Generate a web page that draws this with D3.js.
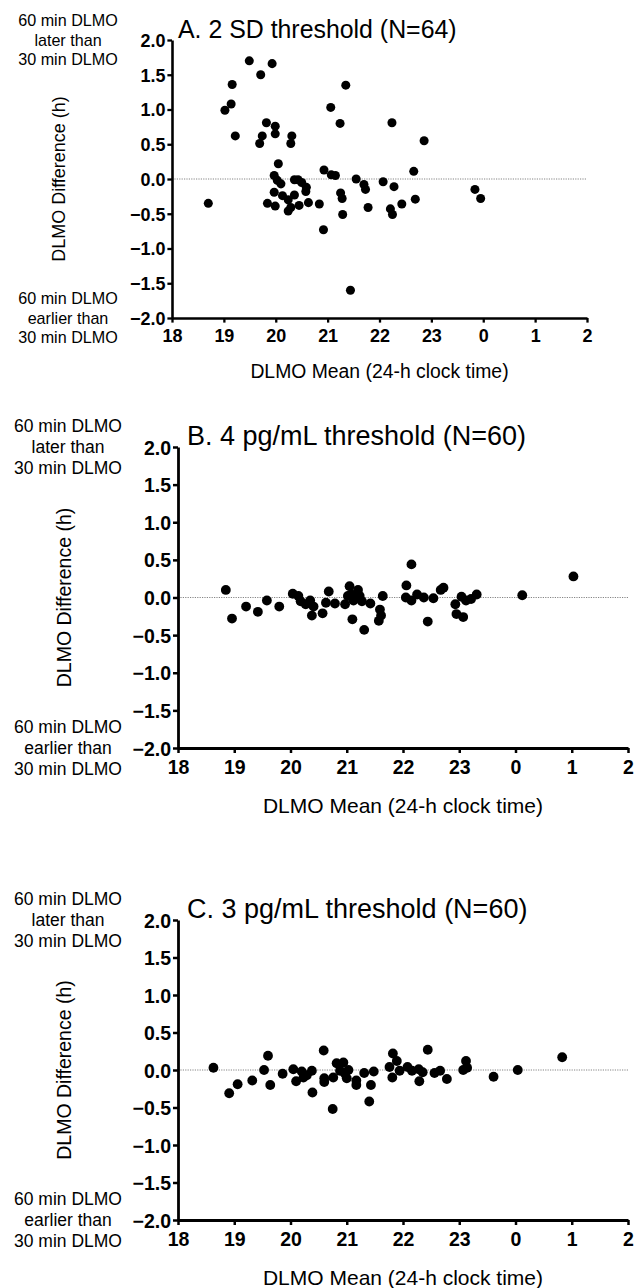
<!DOCTYPE html>
<html>
<head>
<meta charset="utf-8">
<script src="https://cdn.jsdelivr.net/npm/d3@7"></script>
<style>
 body{margin:0;background:#fff}
 text{font-family:"Liberation Sans",Arial,Helvetica,sans-serif;fill:#000}
</style>
</head>
<body>
<svg id="fig" width="636" height="1288"></svg>
<script>
// x = DLMO mean in hours (24 = midnight, 25 = 1am ...), y = DLMO difference (h)
var aHour = [18.70,19.02,19.14,19.16,19.22,19.49,19.71,19.93,19.82,19.74,19.69,19.99,19.99,20.31,20.29,20.05,
  19.97,20.03,20.10,19.97,19.84,19.99,20.13,20.24,20.36,20.24,20.29,20.45,20.36,20.43,20.50,20.59,20.58,20.63,
  20.84,20.92,20.93,21.06,21.07,21.15,21.24,21.35,21.25,21.28,21.29,21.44,21.55,21.70,21.73,21.78,22.07,22.28,
  22.24,22.21,22.25,22.43,22.66,22.69,22.86,23.84,23.95];
var aDiff = [-0.35,0.99,1.08,1.36,0.62,1.70,1.50,1.66,0.81,0.62,0.51,0.76,0.65,0.62,0.51,0.22,
  0.05,-0.02,-0.07,-0.19,-0.35,-0.39,-0.24,-0.30,-0.23,-0.46,-0.41,-0.38,-0.01,-0.01,-0.05,-0.12,-0.18,-0.34,
  -0.36,-0.73,0.13,1.03,0.06,0.05,0.80,1.35,-0.20,-0.28,-0.51,-1.60,0.00,-0.08,-0.15,-0.41,-0.04,-0.11,
  0.81,-0.43,-0.51,-0.36,0.11,-0.29,0.55,-0.15,-0.28];

var bHour = [18.85,18.96,19.21,19.42,19.58,19.80,20.04,20.14,20.18,20.27,20.35,20.41,20.38,20.57,20.63,20.68,
  20.79,20.97,21.02,21.05,21.08,21.12,21.10,21.20,21.23,21.27,21.31,21.42,21.59,21.57,21.61,21.64,
  22.06,22.15,22.05,22.15,22.25,22.37,22.44,22.54,22.67,22.72,22.93,22.95,23.07,23.04,23.12,23.21,23.31,24.12,25.03];
var bDiff = [0.10,-0.28,-0.12,-0.19,-0.04,-0.12,0.05,0.02,-0.05,-0.09,-0.04,-0.12,-0.24,-0.21,-0.07,0.08,
  -0.08,-0.09,0.02,0.15,0.04,-0.04,-0.29,0.10,0.02,-0.05,-0.43,-0.08,-0.16,-0.31,-0.24,0.02,
  0.16,0.44,0.00,-0.04,0.04,0.00,-0.32,-0.01,0.10,0.13,-0.09,-0.22,-0.26,0.01,-0.04,-0.02,0.04,0.03,0.28];

var cHour = [18.63,18.91,19.06,19.32,19.53,19.60,19.64,19.86,20.05,20.10,20.20,20.23,20.29,20.38,20.39,20.59,
  20.60,20.60,20.75,20.76,20.82,20.94,20.88,20.97,21.03,21.00,21.17,21.17,21.31,21.43,21.40,21.48,21.76,21.82,
  21.81,21.89,21.94,22.08,22.16,22.28,22.35,22.29,22.44,22.56,22.66,22.78,23.07,23.12,23.14,23.61,24.04,24.83];
var cDiff = [0.03,-0.31,-0.19,-0.14,0.00,0.19,-0.20,-0.05,0.01,-0.15,-0.02,-0.10,-0.07,-0.01,-0.30,0.26,
  -0.11,-0.16,-0.52,-0.10,0.09,0.10,-0.01,-0.05,0.00,-0.11,-0.14,-0.20,-0.04,-0.20,-0.42,-0.02,0.04,0.22,
  -0.10,0.12,-0.01,0.04,-0.01,0.01,-0.03,-0.15,0.27,-0.04,-0.01,-0.12,0.00,0.12,0.03,-0.09,0.00,0.17];

var titles = ["A. 2 SD threshold (N=64)", "B. 4 pg/mL threshold (N=60)", "C. 3 pg/mL threshold (N=60)"];
var xTicks = [18,19,20,21,22,23,24,25,26];
var yTicks = [2.0,1.5,1.0,0.5,0.0,-0.5,-1.0,-1.5,-2.0];
var upperNote = ["60 min DLMO","later than","30 min DLMO"];
var lowerNote = ["60 min DLMO","earlier than","30 min DLMO"];

var panels = [
 {x:aHour, y:aDiff, title:titles[0], l:172, r:587, t:40,  b:318,  k:0.922},
 {x:bHour, y:bDiff, title:titles[1], l:178, r:628, t:447, b:748,  k:1},
 {x:cHour, y:cDiff, title:titles[2], l:178, r:628, t:920, b:1220, k:1}
];

var svg = d3.select("#fig");

panels.forEach(function(p){
  var k = p.k;
  var x = d3.scaleLinear().domain([18,26]).range([p.l,p.r]);
  var y = d3.scaleLinear().domain([-2,2]).range([p.b,p.t]);
  var g = svg.append("g");

  // zero reference line
  g.append("line")
   .attr("x1",p.l).attr("x2",p.r).attr("y1",y(0)).attr("y2",y(0))
   .attr("stroke","#666").attr("stroke-width",0.8).attr("stroke-dasharray","1.2,1.2");

  var xa = g.append("g").attr("transform","translate(0,"+p.b+")")
    .call(d3.axisBottom(x).tickValues(xTicks).tickSize(5*k).tickSizeOuter(0)
      .tickFormat(function(d){ return d%24; }));
  var ya = g.append("g").attr("transform","translate("+p.l+",0)")
    .call(d3.axisLeft(y).tickValues(yTicks).tickSize(5*k).tickSizeOuter(0).tickFormat(d3.format(".1f")));

  [xa,ya].forEach(function(a){
    a.select(".domain").attr("stroke","#000").attr("stroke-width",2.8*k);
    a.selectAll(".tick line").attr("stroke","#000").attr("stroke-width",2.5*k);
    a.selectAll(".tick text").style("font-size",(19.5*k)+"px").style("font-weight","bold")
     .attr("fill","#000").style("font-family","'Liberation Sans',Arial,sans-serif");
  });
  xa.selectAll(".tick text").attr("dy",null).attr("y",26*k);
  ya.selectAll(".tick text").attr("x",-7*k).attr("dy","0.36em");

  g.selectAll("circle").data(p.x).enter().append("circle")
   .attr("cx",function(d){ return x(d); })
   .attr("cy",function(d,i){ return y(p.y[i]); })
   .attr("r",4.9*k).attr("fill","#000");

  g.append("text").attr("x",p.l+(p.k<1?6:9)).attr("y",p.t-2*k)
   .style("font-size",(27*k)+"px").text(p.title);

  g.append("text").attr("x",(p.l+p.r)/2).attr("y",p.b+65*k).attr("text-anchor","middle")
   .style("font-size",(21*k)+"px").text("DLMO Mean (24-h clock time)");

  var cy = (p.t+p.b)/2;
  g.append("text").attr("transform","translate("+(p.l-107)+","+cy+") rotate(-90)")
   .attr("text-anchor","middle").style("font-size",(19.5*k)+"px").text("DLMO Difference (h)");

  [[upperNote,p.t],[lowerNote,p.b]].forEach(function(n){
    g.append("g").selectAll("text").data(n[0]).enter().append("text")
     .attr("x",68).attr("y",function(d,i){ return n[1]+(i-1)*21*k+6*k; })
     .attr("text-anchor","middle").style("font-size",(17.5*k)+"px").text(function(d){ return d; });
  });
});
</script>
</body>
</html>
